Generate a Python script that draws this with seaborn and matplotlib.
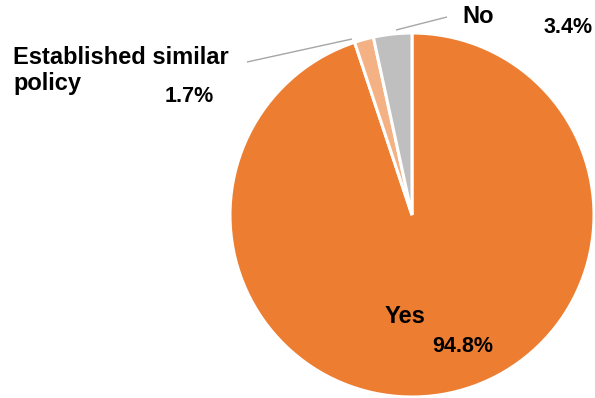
import matplotlib
matplotlib.use("Agg")
import matplotlib.pyplot as plt
import seaborn as sns

categories = ["Yes", "Established similar policy", "No"]
shares = [94.8, 1.7, 3.4]
share_labels = ["94.8%", "1.7%", "3.4%"]
colors = ["#ED7D31", "#F4B183", "#BFBFBF"]

sns.set_theme(style="white")
plt.rcParams["font.family"] = ["Liberation Sans", "DejaVu Sans"]

W, H = 595, 398
CX, CY, R = 412, 215, 182

fig = plt.figure(figsize=(W / 100, H / 100), dpi=100)
ax = fig.add_axes([0, 0, 1, 1])


def px(x, y):
    """Pixel position (from top-left) to data coordinates of a unit pie."""
    return (x - CX) / R, (CY - y) / R


ax.pie(shares, colors=colors, startangle=90, counterclock=False, radius=1,
       wedgeprops=dict(edgecolor="white", linewidth=2.2))
ax.set_xlim(px(0, 0)[0], px(W, 0)[0])
ax.set_ylim(px(0, H)[1], px(0, 0)[1])
ax.set_aspect("auto")
ax.axis("off")

bold = dict(fontweight="bold", color="black", va="baseline")
CAT_SIZE = 17
PCT_SIZE = 15.5

# leader lines for the small slices
for (a, b) in [((396, 30), (447, 17)), ((247, 62), (352, 39))]:
    (x0, y0), (x1, y1) = px(*a), px(*b)
    ax.plot([x0, x1], [y0, y1], color="#A6A6A6", lw=1.0, solid_capstyle="butt")

ax.text(*px(405, 323), categories[0], ha="center", fontsize=CAT_SIZE, **bold)
ax.text(*px(463, 352), share_labels[0], ha="center", fontsize=PCT_SIZE, **bold)

est_lines = ["Established similar", "policy"]
ax.text(*px(13, 64), est_lines[0], ha="left", fontsize=CAT_SIZE, **bold)
ax.text(*px(13, 90), est_lines[1], ha="left", fontsize=CAT_SIZE, **bold)
ax.text(*px(189.5, 102), share_labels[1], ha="center", fontsize=PCT_SIZE, **bold)

ax.text(*px(478, 23), categories[2], ha="center", fontsize=CAT_SIZE, **bold)
ax.text(*px(568, 33), share_labels[2], ha="center", fontsize=PCT_SIZE, **bold)

fig.savefig("out.png", dpi=100, facecolor="white")
